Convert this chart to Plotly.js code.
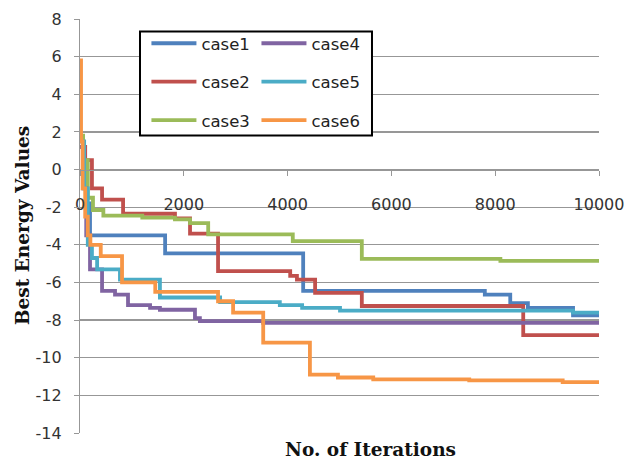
<!DOCTYPE html>
<html>
<head>
<meta charset="utf-8">
<script src="https://cdn.plot.ly/plotly-3.0.1.min.js"></script>
<style>html,body{margin:0;padding:0;background:#fff;}#chart{width:629px;height:462px;}</style>
</head>
<body>
<div id="chart"></div>
<script>
const seriesNames = ["case1", "case2", "case3", "case4", "case5", "case6"];
const seriesColors = ["#4F81BD", "#C0504D", "#9BBB59", "#8064A2", "#4BACC6", "#F79646"];

const case1X = [0, 60, 120, 193, 1640, 4300, 7800, 8290, 8630, 9500, 10000];
const case1Y = [1.5, 0.0, -1.8, -3.5, -4.45, -6.45, -6.65, -7.1, -7.35, -7.75, -7.75];

const case2X = [0, 100, 230, 425, 830, 1830, 2120, 2660, 4050, 4180, 4530, 5430, 8540, 10000];
const case2Y = [1.2, 0.5, -1.0, -1.6, -2.35, -2.6, -3.4, -5.4, -5.65, -5.85, -6.55, -7.25, -8.8, -8.8];

const case3X = [0, 60, 150, 250, 450, 1200, 1830, 2120, 2470, 4100, 5430, 8100, 10000];
const case3Y = [1.8, 0.5, -1.5, -2.15, -2.45, -2.55, -2.65, -2.85, -3.45, -3.8, -4.75, -4.85, -4.85];

const case4X = [0, 60, 120, 193, 425, 675, 925, 1350, 1540, 2215, 2310, 3530, 10000];
const case4Y = [1.2, -1.0, -3.5, -5.3, -6.45, -6.65, -7.2, -7.35, -7.45, -7.9, -8.05, -8.15, -8.15];

const case5X = [0, 80, 150, 230, 330, 770, 1540, 2700, 3850, 4280, 5010, 9500, 10000];
const case5Y = [1.5, -1.0, -4.0, -4.7, -5.3, -5.85, -6.8, -7.05, -7.2, -7.35, -7.5, -7.6, -7.6];

const case6X = [0, 20, 50, 100, 150, 200, 400, 810, 1450, 2660, 2950, 3530, 4430, 4970, 5650, 7500, 9300, 10000];
const case6Y = [5.8, 1.5, -1.0, -2.5, -3.5, -4.0, -4.6, -6.0, -6.5, -7.0, -7.6, -9.2, -10.9, -11.05, -11.15, -11.2, -11.3, -11.3];

const xTickVals = [0, 2000, 4000, 6000, 8000, 10000];
const xTickText = ["0", "2000", "4000", "6000", "8000", "10000"];
const yTickVals = [-14, -12, -10, -8, -6, -4, -2, 0, 2, 4, 6, 8];
const yTickText = ["-14", "-12", "-10", "-8", "-6", "-4", "-2", "0", "2", "4", "6", "8"];

const xTitle = "No. of Iterations";
const yTitle = "Best Energy Values";

const xs = [case1X, case2X, case3X, case4X, case5X, case6X];
const ys = [case1Y, case2Y, case3Y, case4Y, case5Y, case6Y];

const traces = seriesNames.map((name, i) => ({
  type: "scatter",
  mode: "lines",
  name: name,
  x: xs[i],
  y: ys[i],
  line: {color: seriesColors[i], width: 3.8, shape: "hv"},
  legend: i < 3 ? "legend" : "legend2",
  legendgroup: name
}));

const gridColor = "#979797";
const tickFont = {family: "DejaVu Sans", size: 16, color: "#333333"};
const legendFont = {family: "DejaVu Sans", size: 16.5, color: "#222222"};
const titleFont = {family: "DejaVu Serif", size: 18.5, color: "#111111", weight: "bold"};

const layout = {
  width: 629,
  height: 462,
  margin: {l: 80, r: 30, t: 19, b: 29},
  paper_bgcolor: "#ffffff",
  plot_bgcolor: "#ffffff",
  showlegend: true,
  xaxis: {
    range: [0, 10000],
    tickvals: xTickVals,
    ticktext: xTickText,
    showgrid: false,
    zeroline: false,
    showline: true,
    linecolor: gridColor,
    linewidth: 1.2,
    ticks: "outside",
    ticklen: 5,
    tickcolor: gridColor,
    anchor: "free",
    position: 14 / 22,
    ticklabelstandoff: 15,
    tickfont: tickFont
  },
  yaxis: {
    range: [-14, 8],
    tickvals: yTickVals,
    ticktext: yTickText,
    showgrid: true,
    gridcolor: gridColor,
    gridwidth: 1.2,
    zeroline: false,
    showline: true,
    linecolor: gridColor,
    linewidth: 1.2,
    ticks: "outside",
    ticklen: 5,
    tickcolor: gridColor,
    ticklabelstandoff: 9,
    tickfont: tickFont
  },
  legend: {
    x: 0.128, y: 0.983, xanchor: "left", yanchor: "top",
    bgcolor: "rgba(0,0,0,0)", borderwidth: 0,
    font: legendFont, tracegroupgap: 14, itemwidth: 45
  },
  legend2: {
    x: 0.34, y: 0.983, xanchor: "left", yanchor: "top",
    bgcolor: "rgba(0,0,0,0)", borderwidth: 0,
    font: legendFont, tracegroupgap: 14, itemwidth: 45
  },
  shapes: [{
    type: "rect", xref: "paper", yref: "paper",
    x0: 0.1156, x1: 0.5626, y0: 0.7183, y1: 0.9698,
    line: {color: "#000000", width: 2},
    fillcolor: "#ffffff",
    layer: "above"
  }],
  annotations: [
    {text: xTitle, xref: "paper", yref: "paper", x: 0.559, y: -0.04,
     xanchor: "center", yanchor: "middle", showarrow: false, font: titleFont},
    {text: yTitle, xref: "paper", yref: "paper", x: -0.112, y: 0.502,
     xanchor: "center", yanchor: "middle", textangle: -90, showarrow: false, font: titleFont}
  ]
};

Plotly.newPlot("chart", traces, layout, {displayModeBar: false, staticPlot: true});
</script>
</body>
</html>
